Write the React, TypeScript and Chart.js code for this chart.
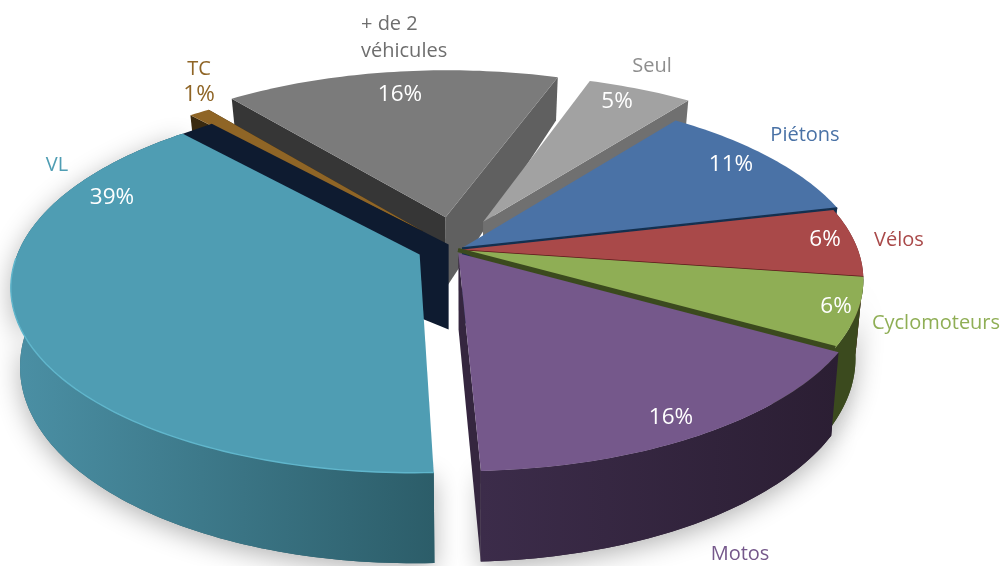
import React, { useEffect, useRef } from "react";
import { Chart, registerables } from "chart.js";

Chart.register(...registerables);

const categories = ["Piétons", "Vélos", "Cyclomoteurs", "Motos", "VL", "TC", "+ de 2 véhicules", "Seul"];
const shares = [11, 6, 6, 16, 39, 1, 16, 5];
const explode = [0, 0, 0, 4, 9.5, 14, 19, 18];
const nudges = [[4, -2], [0, 0], [0, 0], [-8, -3], [-3, -2], [0, 0], [0, 0], [-8, 0]];
const topColors = ["#4a72a6", "#a94949", "#8fae55", "#75588b", "#4f9db3", "#8f6526", "#7b7b7b", "#a2a2a2"];
const rimLeft = ["#2c4565", "#5a1f1f", "#3b4a1e", "#3c2c4a", "#4b90a5", "#3a2a10", "#555555", "#707070"];
const rimRight = ["#2c4565", "#5a1f1f", "#3b4a1e", "#2b1e33", "#2c5d69", "#3a2a10", "#555555", "#707070"];
const startWall = ["", "", "", "", "", "#3a2a10", "#363636", ""];
const endWall = ["#14304f", "", "", "#35263f", "#0e1b30", "#3a2a10", "#606060", "#707070"];
const seamColors = ["#14304f", "#5a1a1a", "#3b4a1e", "", "", "", "", ""];
const seamWidths = [1.6, 1.6, 4, 0, 0, 0, 0, 0];
const percentLabels = ["11%", "6%", "6%", "16%", "39%", "1%", "16%", "5%"];
const percentColors = ["#ffffff", "#ffffff", "#ffffff", "#ffffff", "#ffffff", "#8f6526", "#ffffff", "#ffffff"];
const percentAnchors = [[731, 165], [825, 240], [836, 307], [671, 418], [112, 198], [199, 95], [400, 95], [617, 102]];
const nameLines = [["Piétons"], ["Vélos"], ["Cyclomoteurs"], ["Motos"], ["VL"], ["TC"], ["+ de 2", "véhicules"], ["Seul"]];
const nameColors = ["#4a72a6", "#a94949", "#8fae55", "#75588b", "#4f9db3", "#8f6526", "#6e6e6e", "#8e8e8e"];
const nameAnchors = [[805, 135], [899, 240], [936, 323], [740, 554], [57, 165], [199, 69], [361, 38], [652, 66]];
const nameAligns = ["center", "center", "center", "center", "center", "center", "left", "center"];

const CX = 458, CY = 250, A = 400, B = 180.5, K = 0.162, VX = 470, SHRINK = 0.98;

type P = { x: number; y: number; v: number };
const project = (u: number, v: number, n: number[]): P => {
  const w = 1 - K * v;
  return { x: CX + (A * u) / w + n[0], y: CY + (B * v) / w + n[1], v };
};
const depthAt = (v: number) => (v >= 0 ? 76 + 14 * v : 76 + 29 * v);
const lower = (p: P): P => ({ x: VX + (p.x - VX) * SHRINK, y: p.y + depthAt(p.v), v: p.v });

const sliceGeometry = (el: any, n: number[]) => {
  const mid = (el.startAngle + el.endAngle) / 2;
  const d = (el.options.offset || 0) / 100;
  const u0 = Math.cos(mid) * d, v0 = Math.sin(mid) * d;
  const arc: P[] = [];
  const steps = Math.max(4, Math.ceil((el.endAngle - el.startAngle) / 0.02));
  for (let i = 0; i <= steps; i++) {
    const a = el.startAngle + ((el.endAngle - el.startAngle) * i) / steps;
    arc.push(project(u0 + Math.cos(a), v0 + Math.sin(a), n));
  }
  return { apex: project(u0, v0, n), arc, midV: v0 + Math.sin(mid) };
};

const poly = (ctx: CanvasRenderingContext2D, pts: { x: number; y: number }[]) => {
  ctx.beginPath();
  pts.forEach((p, i) => (i ? ctx.lineTo(p.x, p.y) : ctx.moveTo(p.x, p.y)));
  ctx.closePath();
};

const rimFill = (ctx: CanvasRenderingContext2D, arc: P[], i: number) => {
  const xs = arc.map((p) => p.x);
  const g = ctx.createLinearGradient(Math.min(...xs), 0, Math.max(...xs), 0);
  g.addColorStop(0, rimLeft[i]);
  g.addColorStop(1, rimRight[i]);
  return g;
};

const pie3d = {
  id: "pie3d",
  beforeDatasetsDraw(chart: any) {
    const ctx: CanvasRenderingContext2D = chart.ctx;
    const els = chart.getDatasetMeta(0).data;
    const geo = els.map((el: any, i: number) => ({ i, el, ...sliceGeometry(el, nudges[i]) }));

    // soft floor shadow under the front slices
    ctx.save();
    ctx.shadowColor = "rgba(0,0,0,0.3)";
    ctx.shadowBlur = 26;
    ctx.shadowOffsetY = 6;
    geo.filter((g: any) => g.midV > 0.2).forEach((g: any) => {
      poly(ctx, [...g.arc, ...g.arc.map(lower).reverse()]);
      ctx.fillStyle = rimRight[g.i];
      ctx.fill();
    });
    ctx.restore();

    [...geo].sort((a: any, b: any) => a.midV - b.midV).forEach((g: any) => {
      const { i, apex, arc } = g;
      const first = arc[0], last = arc[arc.length - 1];
      if (startWall[i]) {
        poly(ctx, [apex, first, lower(first), lower(apex)]);
        ctx.fillStyle = startWall[i];
        ctx.fill();
      }
      if (endWall[i]) {
        poly(ctx, [apex, last, lower(last), lower(apex)]);
        ctx.fillStyle = endWall[i];
        ctx.fill();
      }
      if (categories[i] === "VL") {
        // the dark inner face visible behind the largest slice
        const sx = 29, sy = -10;
        poly(ctx, [
          { x: last.x, y: last.y },
          { x: last.x + sx, y: last.y + sy },
          { x: apex.x + sx, y: apex.y + sy },
          { x: apex.x + sx, y: apex.y + sy + 85 },
          { x: apex.x + 2, y: apex.y + 64 },
        ]);
        ctx.fillStyle = endWall[i];
        ctx.fill();
      }
      if (g.midV > -0.3) {
        poly(ctx, [...arc, ...arc.map(lower).reverse()]);
        ctx.fillStyle = rimFill(ctx, arc, i);
        ctx.fill();
      }
      if (categories[i] === "Cyclomoteurs") {
        // dark green sliver that fills the seam down to the next slice
        poly(ctx, [apex, last, lower(last)]);
        ctx.fillStyle = seamColors[i];
        ctx.fill();
      }
      poly(ctx, [apex, ...arc]);
      ctx.fillStyle = g.el.options.backgroundColor;
      ctx.fill();
      if (seamWidths[i]) {
        ctx.beginPath();
        ctx.moveTo(apex.x, apex.y);
        ctx.lineTo(last.x, last.y);
        ctx.strokeStyle = seamColors[i];
        ctx.lineWidth = seamWidths[i];
        ctx.stroke();
      }
      if (categories[i] === "VL") {
        ctx.beginPath();
        arc.filter((p: P) => p.v > 0.05).forEach((p: P, n: number) => (n ? ctx.lineTo(p.x, p.y) : ctx.moveTo(p.x, p.y)));
        ctx.strokeStyle = "#60b6cc";
        ctx.lineWidth = 1.4;
        ctx.stroke();
      }
    });
    return false;
  },
  afterDraw(chart: any) {
    const ctx: CanvasRenderingContext2D = chart.ctx;
    ctx.save();
    ctx.textBaseline = "middle";
    categories.forEach((_, i) => {
      ctx.textAlign = "center";
      ctx.font = '22.5px "Open Sans", sans-serif';
      ctx.fillStyle = percentColors[i];
      ctx.fillText(percentLabels[i], percentAnchors[i][0], percentAnchors[i][1]);
      ctx.textAlign = nameAligns[i] as CanvasTextAlign;
      ctx.font = '20px "Open Sans", sans-serif';
      ctx.fillStyle = nameColors[i];
      const lines = nameLines[i];
      lines.forEach((line, n) => {
        const y = nameAnchors[i][1] + (n - (lines.length - 1) / 2) * 27;
        ctx.fillText(line, nameAnchors[i][0], y);
      });
    });
    ctx.restore();
  },
};

export default function App() {
  const ref = useRef<HTMLCanvasElement>(null);
  useEffect(() => {
    document.body.style.margin = "0";
    const chart = new Chart(ref.current as HTMLCanvasElement, {
      type: "pie",
      data: {
        labels: categories,
        datasets: [{ data: shares, backgroundColor: topColors, offset: explode, borderWidth: 0 }],
      },
      options: {
        responsive: false,
        animation: false,
        rotation: 37.1,
        plugins: { legend: { display: false }, tooltip: { enabled: false } },
      },
      plugins: [pie3d],
    } as any);
    return () => chart.destroy();
  }, []);
  return <canvas ref={ref} width={1003} height={566} style={{ display: "block" }} />;
}
